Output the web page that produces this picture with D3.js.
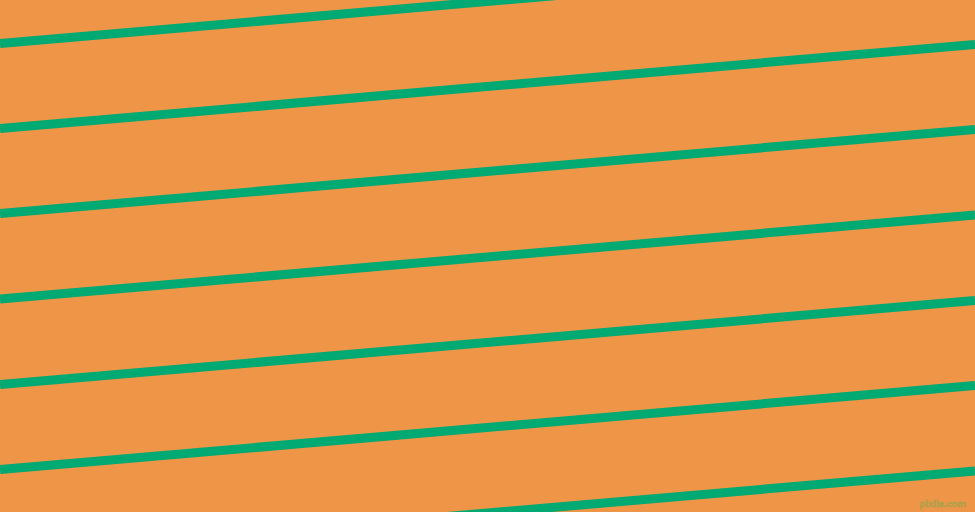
<!DOCTYPE html>
<html>
<head>
<meta charset="utf-8">
<script src="https://cdn.jsdelivr.net/npm/d3@7"></script>
<style>
  html, body { margin: 0; padding: 0; overflow: hidden; }
  svg { display: block; }
</style>
</head>
<body>
<div id="chart"></div>
<script>
// stripe positions: where each line crosses the left and right edge
const stripeLeftY = [43.5, 128.5, 213.5, 299, 384.5, 469.5, 555];
const stripeRightY = [-40.5, 44.5, 129.5, 215, 300.5, 385.5, 471];
const watermarkText = "pixlis.com";

const width = 975;
const height = 512;

const bgColor = "#ef9548";
const stripeColor = "#00aa72";

const svg = d3.select("#chart").append("svg")
    .attr("width", width)
    .attr("height", height);

const xScale = d3.scaleLinear().domain([0, 1]).range([0, width]);
const yScale = d3.scaleLinear().domain([0, height]).range([0, height]);

svg.append("rect")
    .attr("width", width)
    .attr("height", height)
    .attr("fill", bgColor);

const stripes = stripeLeftY.map((y0, i) => [[0, y0], [1, stripeRightY[i]]]);

const line = d3.line()
    .x(d => xScale(d[0]))
    .y(d => yScale(d[1]));

svg.append("g")
    .selectAll("path")
    .data(stripes)
    .enter()
    .append("path")
    .attr("d", line)
    .attr("fill", "none")
    .attr("stroke", stripeColor)
    .attr("stroke-width", 9);

// watermark
svg.append("text")
    .attr("x", width - 9)
    .attr("y", height - 5)
    .attr("text-anchor", "end")
    .attr("font-family", "Liberation Sans, sans-serif")
    .attr("font-size", 9.5)
    .attr("font-weight", "bold")
    .attr("fill", "none")
    .attr("stroke", "#8aa84e")
    .attr("stroke-width", 0.6)
    .attr("opacity", 0.8)
    .text(watermarkText);
</script>
</body>
</html>
